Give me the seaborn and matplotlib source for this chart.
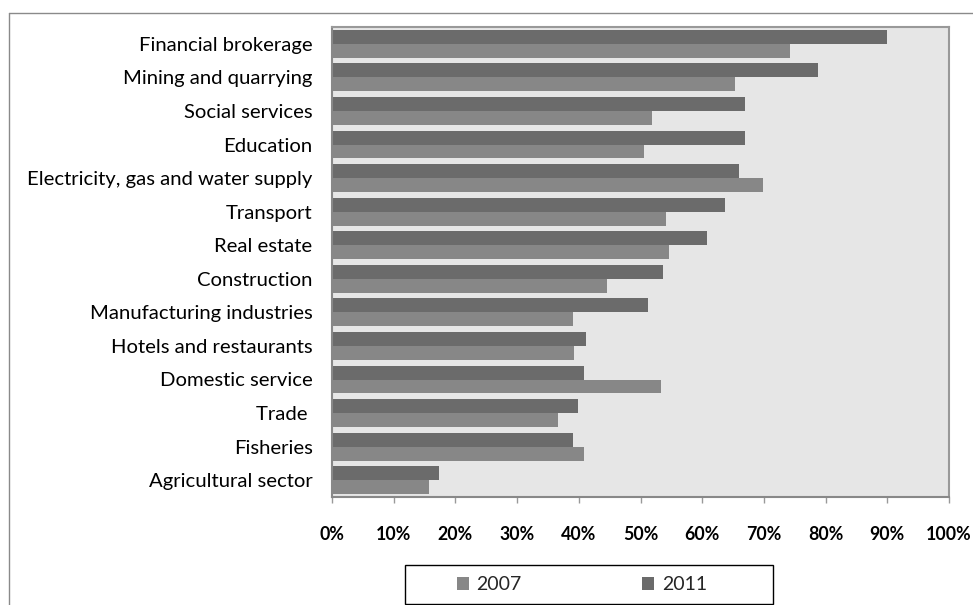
import matplotlib
matplotlib.use("Agg")
import matplotlib.pyplot as plt
from matplotlib.patches import Patch, Rectangle
from matplotlib.lines import Line2D
from matplotlib.ticker import PercentFormatter
import pandas as pd
import seaborn as sns

sectors = [
    "Financial brokerage",
    "Mining and quarrying",
    "Social services",
    "Education",
    "Electricity, gas and water supply",
    "Transport",
    "Real estate",
    "Construction",
    "Manufacturing industries",
    "Hotels and restaurants",
    "Domestic service",
    "Trade ",
    "Fisheries",
    "Agricultural sector",
]
share_2011 = [90.0, 78.8, 66.9, 66.9, 65.9, 63.7, 60.8, 53.7, 51.2, 41.2, 40.9, 39.9, 39.0, 17.4]
share_2007 = [74.3, 65.3, 51.8, 50.5, 69.8, 54.1, 54.7, 44.5, 39.0, 39.3, 53.4, 36.7, 40.9, 15.7]
years = ["2011", "2007"]
legend_years = ["2007", "2011"]
x_ticks = [0, 10, 20, 30, 40, 50, 60, 70, 80, 90, 100]

colors = {"2011": "#6b6b6b", "2007": "#878787"}

df = pd.concat([
    pd.DataFrame({"sector": sectors, "share": share_2011, "year": "2011"}),
    pd.DataFrame({"sector": sectors, "share": share_2007, "year": "2007"}),
])

sns.set_style("white")
plt.rcParams["font.family"] = ["Lato", "DejaVu Sans"]

fig = plt.figure(figsize=(9.73, 6.05), dpi=100)
W, H = 973, 605
ax = fig.add_axes([332 / W, 1 - 497 / H, (949 - 332) / W, (497 - 27) / H])
ax.set_facecolor("#e6e6e6")

sns.barplot(data=df, y="sector", x="share", hue="year", hue_order=years,
            order=sectors, palette=colors, width=0.83, orient="h",
            saturation=1, ax=ax, legend=False, linewidth=0)

ax.set_xlim(0, 100)
ax.set_xticks(x_ticks)
ax.xaxis.set_major_formatter(PercentFormatter(100, decimals=0))
ax.set_xlabel("")
ax.set_ylabel("")

for lbl in ax.get_xticklabels():
    lbl.set_fontweight("bold")
ax.tick_params(axis="x", bottom=True, length=4, width=1, color="#999999",
               pad=17, labelsize=12.8, labelcolor="black")
ax.tick_params(axis="y", left=False, length=0, pad=14, labelsize=14.6,
               labelcolor="black")

for side in ["left", "bottom"]:
    ax.spines[side].set_color("#888888")
    ax.spines[side].set_linewidth(1.5)
for side in ["top", "right"]:
    ax.spines[side].set_visible(True)
    ax.spines[side].set_color("#999999")
    ax.spines[side].set_linewidth(1.5)

# outer chart border (top and left edges)
fig.add_artist(Line2D([9 / W, 1], [1 - 13 / H, 1 - 13 / H], transform=fig.transFigure,
                      color="#8a8a8a", linewidth=1))
fig.add_artist(Line2D([9 / W, 9 / W], [0, 1 - 13 / H], transform=fig.transFigure,
                      color="#8a8a8a", linewidth=1))

# legend frame
fig.add_artist(Rectangle((405 / W, 1 - 604 / H), (773 - 405) / W, 39 / H,
                         transform=fig.transFigure, facecolor="white",
                         edgecolor="black", linewidth=1))
handles = [Patch(facecolor=colors[y], edgecolor="none") for y in legend_years]
fig.legend(handles, legend_years, loc="center", ncol=2,
           bbox_to_anchor=(582 / W, 1 - 585 / H), frameon=False,
           fontsize=14, handlelength=0.6, handleheight=0.6,
           handletextpad=0.4, columnspacing=6.2)

fig.savefig("out.png", dpi=100)
